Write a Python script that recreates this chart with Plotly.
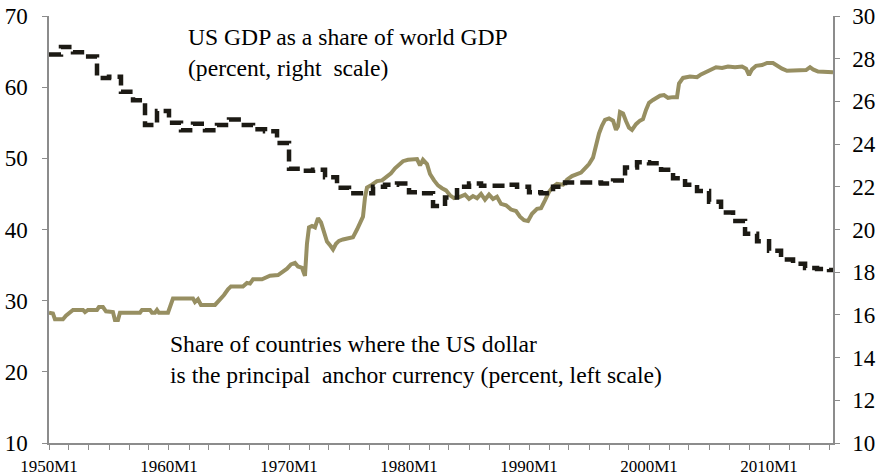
import plotly.graph_objects as go

# US GDP as a share of world GDP (percent, right scale) - annual values
gdp_dates = [f"{y}-01-01" for y in range(1950, 2016)] + ["2015-05-01"]
gdp_values = [
    28.2, 28.55, 28.3, 28.1, 27.1, 27.15, 26.45, 26.05, 24.9, 25.55,
    25.0, 24.65, 24.95, 24.65, 24.9, 25.15, 24.9, 24.7, 24.6, 24.05,
    22.85, 22.75, 22.8, 22.45, 21.95, 21.7, 21.7, 22.0, 22.1, 22.15,
    21.75, 21.7, 21.1, 21.5, 22.0, 22.15, 22.05, 22.05, 22.1, 22.0,
    21.75, 21.7, 22.0, 22.2, 22.2, 22.2, 22.15, 22.3, 22.9, 23.15,
    23.1, 22.8, 22.4, 22.1, 21.8, 21.3, 20.8, 20.4, 19.8, 19.45,
    19.0, 18.6, 18.4, 18.2, 18.15, 18.1, 18.1,
]

# Share of countries where the US dollar is the principal anchor currency (percent, left scale)
anchor_dates = [
    "1950-01", "1950-05", "1950-07", "1951-03", "1951-06", "1951-10", "1952-01", "1952-11",
    "1953-01", "1953-04", "1954-01", "1954-03", "1954-07", "1954-10", "1955-05", "1955-07",
    "1955-10", "1955-12", "1957-08", "1957-10", "1958-06", "1958-08", "1958-11", "1959-01",
    "1959-03", "1959-12", "1960-02", "1960-05", "1962-01", "1962-03", "1962-06", "1962-09",
    "1963-11", "1964-03", "1964-08", "1964-12", "1965-03", "1966-03", "1966-07", "1966-10",
    "1967-01", "1967-10", "1968-02", "1968-06", "1969-02", "1969-06", "1969-11", "1970-03",
    "1970-07", "1970-10", "1971-02", "1971-05", "1971-07", "1971-09", "1971-12", "1972-03",
    "1972-06", "1972-09", "1972-12", "1973-03", "1973-06", "1973-09", "1973-12", "1974-03",
    "1974-07", "1974-12", "1975-05", "1975-09", "1976-01", "1976-03", "1976-05", "1976-07",
    "1976-12", "1977-05", "1977-10", "1978-02", "1978-07", "1978-11", "1979-03", "1979-07",
    "1979-12", "1980-05", "1980-09", "1980-12", "1981-03", "1981-07", "1981-10", "1982-02",
    "1982-06", "1982-10", "1983-02", "1983-06", "1983-10", "1984-04", "1984-09", "1985-01",
    "1985-05", "1985-09", "1986-01", "1986-05", "1986-09", "1987-01", "1987-05", "1987-09",
    "1988-02", "1988-07", "1988-12", "1989-04", "1989-08", "1989-12", "1990-04", "1990-09",
    "1991-01", "1991-05", "1991-09", "1992-01", "1992-05", "1992-11", "1993-03", "1993-08",
    "1994-01", "1994-05", "1994-09", "1995-01", "1995-05", "1995-08", "1995-11", "1996-02",
    "1996-05", "1996-09", "1997-01", "1997-04", "1997-06", "1997-08", "1997-11", "1998-02",
    "1998-05", "1998-08", "1998-12", "1999-04", "1999-07", "1999-10", "2000-01", "2000-05",
    "2000-09", "2000-12", "2001-04", "2001-08", "2002-01", "2002-05", "2002-07", "2002-11",
    "2003-06", "2004-01", "2004-05", "2004-10", "2005-03", "2005-08", "2006-02", "2006-08",
    "2007-03", "2007-10", "2008-02", "2008-05", "2008-08", "2008-12", "2009-06", "2009-11",
    "2010-05", "2010-09", "2011-02", "2011-07", "2012-01", "2012-08", "2013-02", "2013-06",
    "2013-09", "2014-02", "2014-09", "2015-05",
]
anchor_values = [
    28.3, 28.2, 27.4, 27.4, 27.9, 28.4, 28.7, 28.7,
    28.4, 28.7, 28.7, 29.1, 29.1, 28.5, 28.4, 27.3,
    27.3, 28.3, 28.3, 28.7, 28.7, 28.3, 28.3, 28.7,
    28.3, 28.3, 29.3, 30.3, 30.3, 29.8, 30.2, 29.4,
    29.4, 30.0, 30.8, 31.6, 32.0, 32.0, 32.5, 32.4,
    33.0, 33.0, 33.3, 33.5, 33.6, 34.0, 34.5, 35.1,
    35.3, 34.8, 34.6, 33.5, 38.0, 40.3, 40.5, 40.3,
    41.6, 41.0, 39.5, 38.3, 37.8, 37.2, 38.0, 38.4,
    38.6, 38.8, 38.9, 40.0, 41.3, 41.8, 44.5, 45.9,
    46.3, 46.8, 46.9, 47.4, 47.9, 48.6, 49.1, 49.6,
    49.8, 49.8, 49.9, 49.0, 49.8, 49.2, 47.8, 46.9,
    46.2, 45.8, 45.5, 44.8, 44.4, 44.6, 44.9, 44.3,
    44.7, 44.4, 45.0, 44.2, 44.9, 44.3, 44.6, 43.6,
    43.4, 42.8, 42.6, 41.8, 41.3, 41.2, 42.2, 42.9,
    43.0, 44.1, 45.3, 46.0, 46.4, 46.3, 47.0, 47.5,
    47.8, 48.0, 48.6, 49.2, 50.1, 51.8, 53.5, 54.6,
    55.4, 55.6, 55.3, 54.0, 54.5, 56.5, 56.3, 55.2,
    54.3, 54.0, 54.8, 55.3, 55.5, 56.8, 57.8, 58.2,
    58.5, 58.8, 58.9, 58.5, 58.6, 58.6, 60.5, 61.3,
    61.5, 61.4, 61.8, 62.1, 62.4, 62.8, 62.7, 62.9,
    62.8, 62.9, 62.6, 61.7, 62.5, 63.0, 63.1, 63.4,
    63.4, 63.0, 62.6, 62.3, 62.3, 62.4, 62.4, 62.8,
    62.5, 62.2, 62.1, 62.1,
]

tick_years = [1950, 1960, 1970, 1980, 1990, 2000, 2010]
tick_vals = [f"{y}-01-01" for y in tick_years]
tick_text = [f"{y}M1" for y in tick_years]

FONT = "Liberation Serif"
AXIS_GREY = "#8c8c8c"

fig = go.Figure()
fig.add_trace(go.Scatter(
    x=anchor_dates, y=anchor_values, mode="lines", yaxis="y",
    line=dict(color="#978F62", width=4),
    name="Share of countries (left)",
))
fig.add_trace(go.Scatter(
    x=gdp_dates, y=gdp_values, mode="lines", yaxis="y2",
    line=dict(color="#1c1a14", width=4.5, dash="12px,6px", shape="hv"),
    name="US GDP share (right)",
))

fig.update_layout(
    width=878, height=476,
    margin=dict(l=49, r=45, t=16, b=33),
    paper_bgcolor="white", plot_bgcolor="white",
    showlegend=False,
    font=dict(family=FONT, color="black"),
    xaxis=dict(
        type="date", automargin=False,
        range=["1950-01-01", "2015-05-01"],
        tickmode="array", tickvals=tick_vals, ticktext=tick_text,
        ticks="outside", ticklen=5, tickcolor=AXIS_GREY,
        showline=True, linecolor=AXIS_GREY, linewidth=1.5,
        showgrid=False, zeroline=False,
        ticklabelstandoff=2,
        tickfont=dict(size=17, family=FONT),
        minor=dict(ticks="outside", ticklen=5, tickcolor=AXIS_GREY,
                   dtick="M20", tick0="1950-01-01", showgrid=False),
    ),
    yaxis=dict(
        range=[10, 70], dtick=10, tick0=10, automargin=False,
        ticks="outside", ticklen=5, tickcolor=AXIS_GREY,
        showline=True, linecolor=AXIS_GREY, linewidth=1.5,
        showgrid=False, zeroline=False,
        ticklabelstandoff=10,
        tickfont=dict(size=23, family=FONT),
    ),
    yaxis2=dict(
        range=[10, 30], dtick=2, tick0=10, automargin=False,
        overlaying="y", side="right",
        ticks="outside", ticklen=5, tickcolor=AXIS_GREY,
        showline=True, linecolor=AXIS_GREY, linewidth=1.5,
        showgrid=False, zeroline=False,
        ticklabelstandoff=8,
        tickfont=dict(size=23, family=FONT),
    ),
    annotations=[
        dict(text="US GDP as a share of world GDP<br>(percent, right  scale)",
             xref="paper", yref="paper", x=0.175, y=0.987,
             xanchor="left", yanchor="top", align="left", showarrow=False,
             font=dict(size=23.6, family=FONT, color="black")),
        dict(text="Share of countries where the US dollar<br>is the principal  anchor currency (percent, left scale)",
             xref="paper", yref="paper", x=0.152, y=0.266,
             xanchor="left", yanchor="top", align="left", showarrow=False,
             font=dict(size=23.6, family=FONT, color="black")),
    ],
)

fig.write_html(
    "out.html",
    config={"displayModeBar": False},
    post_script="document.body.style.margin='0';document.body.style.padding='0';",
)
